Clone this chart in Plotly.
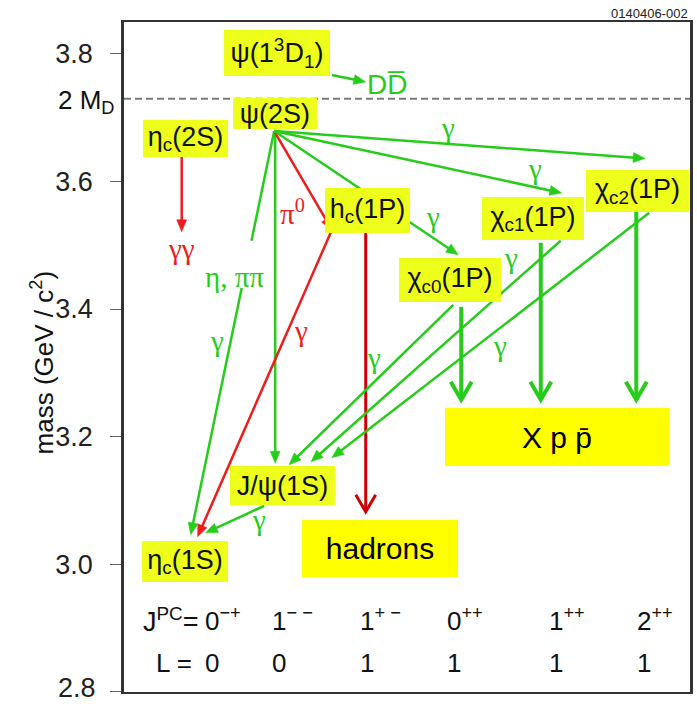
import math
import plotly.graph_objects as go

# ---------------- data ----------------
Y_RANGE = [2.7995, 3.85]
TICK_VALS = [2.8, 3.0, 3.2, 3.4, 3.6, 3.8]
TICK_TEXT = ["2.8", "3.0", "3.2", "3.4", "3.6", "3.8"]
TWO_MD = 3.7297          # 2 M_D threshold (GeV/c^2)
X_RANGE = [0, 569]        # schematic horizontal layout units

# charmonium states: label, horizontal layout position, level (mass, GeV/c^2)
state_names = ["ψ(1<sup>3</sup>D<sub>1</sub>)", "ψ(2S)", "η<sub>c</sub>(2S)", "h<sub>c</sub>(1P)",
               "χ<sub>c0</sub>(1P)", "χ<sub>c1</sub>(1P)", "χ<sub>c2</sub>(1P)",
               "J/ψ(1S)", "η<sub>c</sub>(1S)"]
state_x = [154, 152, 61.5, 244.5, 328, 411, 516.5, 159.5, 61]
state_mass = [3.766, 3.682, 3.639, 3.519, 3.411, 3.5085, 3.552, 3.093, 2.972]

# final states
final_names = ["hadrons", "X p p\u0304"]
final_x = [257, 435]
final_mass = [2.980, 3.154]

# transitions: start (x, mass) -> end (x, mass), colour kind, head kind
tr_x0 = [209, 58, 151, 152, 151, 209, 243, 151, 151, 151, 331, 439, 528, 141, 339, 419, 515]
tr_m0 = [3.767, 3.6386, 3.679, 3.679, 3.679, 3.524, 3.519, 3.679, 3.679, 3.679,
         3.4066, 3.507, 3.5508, 3.0915, 3.4034, 3.5038, 3.5524]
tr_x1 = [243, 58, 67, 152, 209, 74, 243, 524, 440, 336, 166, 188, 209, 82, 339, 419, 515]
tr_m1 = [3.756, 3.521, 3.046, 3.158, 3.524, 3.043, 3.082, 3.636, 3.582, 3.485,
         3.1558, 3.1605, 3.1668, 3.049, 3.2577, 3.2577, 3.2577]
tr_kind = ["g", "r", "g", "g", "r", "r", "R", "g", "g", "g", "g", "g", "g", "g", "G", "G", "G"]
tr_gap = {2: (0.272, 0.389)}   # line broken under the "η, ππ" label

# transition labels
lab_text = ["DD\u0305", "γγ", "π<sup>0</sup>", "γ", "η, ππ", "γ", "γ", "γ", "γ", "γ", "γ", "γ", "γ"]
lab_x = [264.5, 58, 169, 178, 111, 93, 326, 413, 311, 251, 389, 378, 136]
lab_m = [3.7514, 3.494, 3.552, 3.366, 3.4505, 3.350, 3.684, 3.619, 3.5445, 3.3235, 3.480, 3.342, 3.069]
lab_kind = ["gs", "r", "r", "r", "g", "g", "g", "g", "g", "g", "g", "g", "g"]

# quantum-number rows
jpc_labels = ["0<sup>−+</sup>", "1<sup>− −</sup>", "1<sup>+ −</sup>", "0<sup>++</sup>", "1<sup>++</sup>", "2<sup>++</sup>"]
l_values = ["0", "0", "1", "1", "1", "1"]
col_x = [79, 147, 235, 323, 425, 514]
JPC_ROW_M = 2.9129
L_ROW_M = 2.8455

# ---------------- styles / layout ----------------
W, H = 697, 704
ML, MR, MT, MB = 124, 4, 22, 12
PW, PH = W - ML - MR, H - MT - MB
PXM = PH / (Y_RANGE[1] - Y_RANGE[0])
PXX = PW / (X_RANGE[1] - X_RANGE[0])

GREEN = "#26cc1a"
RED = "#ee1c1c"
DRED = "#cc0000"
BOX = "#eeff1c"
BOX2 = "#ffff00"
SANS = "Liberation Sans"
SERIF = "Liberation Serif"
TICK_FONT = dict(family=SANS, size=27, color="#222")

state_box_w = [106, 84, 85, 85, 102, 102, 103, 105, 86]
state_box_h = [46, 31, 37, 45, 44, 43, 42, 39, 41]
final_box_w = [156, 224]
final_box_h = [57, 58]

kind_style = {
    "g": dict(color=GREEN, width=2.5, head="fill", L=12, Wd=5),
    "r": dict(color=RED, width=2.5, head="fill", L=12, Wd=5),
    "R": dict(color=DRED, width=3, head="open", L=17, Wd=10),
    "G": dict(color=GREEN, width=4, head="open", L=18, Wd=10.5),
}

fig = go.Figure()


def to_px(x, m):
    return x * PXX, m * PXM


def from_px(px, py):
    return px / PXX, py / PXM


def line_trace(xs, ys, color, width, fill=False):
    fig.add_trace(go.Scatter(
        x=xs, y=ys, mode="lines",
        line=dict(color=color, width=width),
        fill="toself" if fill else None,
        fillcolor=color if fill else None,
        hoverinfo="skip", showlegend=False))


for i in range(len(tr_x0)):
    st = kind_style[tr_kind[i]]
    sx, sy = to_px(tr_x0[i], tr_m0[i])
    ex, ey = to_px(tr_x1[i], tr_m1[i])
    dx, dy = ex - sx, ey - sy
    ln = math.hypot(dx, dy)
    ux, uy = dx / ln, dy / ln
    nx, ny = -uy, ux
    if st["head"] == "fill":
        bend = (ex - ux * st["L"] * 0.6, ey - uy * st["L"] * 0.6)
    else:
        bend = (ex - ux * 1.0, ey - uy * 1.0)
    segs = []
    if i in tr_gap:
        t0, t1 = tr_gap[i]
        segs.append(((sx, sy), (sx + dx * t0, sy + dy * t0)))
        segs.append(((sx + dx * t1, sy + dy * t1), bend))
    else:
        segs.append(((sx, sy), bend))
    xs, ys = [], []
    for a, b in segs:
        p0 = from_px(*a)
        p1 = from_px(*b)
        xs += [p0[0], p1[0], None]
        ys += [p0[1], p1[1], None]
    line_trace(xs, ys, st["color"], st["width"])
    bx, by = ex - ux * st["L"], ey - uy * st["L"]
    c1 = from_px(bx + nx * st["Wd"], by + ny * st["Wd"])
    c2 = from_px(bx - nx * st["Wd"], by - ny * st["Wd"])
    tp = from_px(ex, ey)
    if st["head"] == "fill":
        line_trace([c1[0], tp[0], c2[0], c1[0]], [c1[1], tp[1], c2[1], c1[1]], st["color"], 0.5, fill=True)
    else:
        line_trace([c1[0], tp[0], c2[0]], [c1[1], tp[1], c2[1]], st["color"], st["width"])

# 2 M_D threshold line
fig.add_shape(type="line", xref="paper", x0=0, x1=1, yref="y", y0=TWO_MD, y1=TWO_MD,
              line=dict(color="#7a7a7a", width=2, dash="7px,4px"), layer="below")

# state boxes
for name, x, m, w, h in zip(state_names, state_x, state_mass, state_box_w, state_box_h):
    fig.add_annotation(x=x, y=m, xref="x", yref="y", text=name, showarrow=False,
                       xanchor="center", yanchor="bottom", width=w, height=h,
                       bgcolor=BOX, borderpad=0, borderwidth=0,
                       font=dict(family=SANS, size=27, color="#111"))

for name, x, m, w, h in zip(final_names, final_x, final_mass, final_box_w, final_box_h):
    fig.add_annotation(x=x, y=m, xref="x", yref="y", text=name, showarrow=False,
                       xanchor="center", yanchor="bottom", width=w, height=h,
                       bgcolor=BOX2, borderpad=0, borderwidth=0,
                       font=dict(family=SANS, size=30, color="#000"))

# transition labels
for t, x, m, k in zip(lab_text, lab_x, lab_m, lab_kind):
    if k == "gs":
        fnt = dict(family=SANS, size=28, color=GREEN)
    elif k == "r":
        fnt = dict(family=SERIF, size=29, color=RED)
    else:
        fnt = dict(family=SERIF, size=29, color=GREEN)
    fig.add_annotation(x=x, y=m, xref="x", yref="y", text=t, showarrow=False,
                       xanchor="center", yanchor="middle", font=fnt)

# quantum number rows
fig.add_annotation(x=77, y=JPC_ROW_M, xref="x", yref="y", text="J<sup>PC</sup>=", showarrow=False,
                   xanchor="right", yanchor="middle", font=dict(family=SANS, size=27, color="#111"))
fig.add_annotation(x=70, y=L_ROW_M, xref="x", yref="y", text="L =", showarrow=False,
                   xanchor="right", yanchor="middle", font=dict(family=SANS, size=26, color="#111"))
for lab, lv, x in zip(jpc_labels, l_values, col_x):
    fig.add_annotation(x=x, y=JPC_ROW_M, xref="x", yref="y", text=lab, showarrow=False,
                       xanchor="left", yanchor="middle", font=dict(family=SANS, size=26, color="#111"))
    fig.add_annotation(x=x, y=L_ROW_M, xref="x", yref="y", text=lv, showarrow=False,
                       xanchor="left", yanchor="middle", font=dict(family=SANS, size=26, color="#111"))

# 2 M_D tick-style label
fig.add_annotation(x=-8 / PW, y=TWO_MD, xref="paper", yref="y", text="2 M<sub>D</sub>", showarrow=False,
                   xanchor="right", yanchor="middle", yshift=-3,
                   font=dict(family=SANS, size=26, color="#111"))

# lowest tick label: drawn as an annotation kept inside the page so it cannot overflow it
fig.add_annotation(x=-27 / PW, y=-MB / PH, xref="paper", yref="paper", text=TICK_TEXT[0],
                   showarrow=False, xanchor="right", yanchor="bottom", borderpad=0, font=TICK_FONT)
axis_tick_text = [""] + TICK_TEXT[1:]

# axis title
fig.add_annotation(x=-82 / PW, y=(PH - 340) / PH, xref="paper", yref="paper",
                   text="mass (GeV / c<sup>2</sup>)", textangle=-90, showarrow=False,
                   xanchor="center", yanchor="middle",
                   font=dict(family=SANS, size=26, color="#111"))

# figure id
fig.add_annotation(x=1, y=1 + 9 / PH, xref="paper", yref="paper", text="0140406-002",
                   showarrow=False, xanchor="right", yanchor="middle",
                   font=dict(family=SANS, size=13, color="#222"))

fig.update_layout(width=W, height=H, margin=dict(l=ML, r=MR, t=MT, b=MB),
                  plot_bgcolor="white", paper_bgcolor="white", showlegend=False)
fig.update_xaxes(range=X_RANGE, showgrid=False, zeroline=False, showticklabels=False, ticks="",
                 showline=True, linecolor="#333", linewidth=2, mirror=True)
fig.update_yaxes(range=Y_RANGE, tickvals=TICK_VALS, ticktext=axis_tick_text, ticks="outside",
                 ticklen=11, tickwidth=1, tickcolor="#666", showgrid=False, zeroline=False,
                 showline=True, linecolor="#333", linewidth=2.5, mirror=True,
                 ticklabelstandoff=12, tickfont=TICK_FONT)

fig.write_html("out.html", config={"displayModeBar": False},
               post_script="document.body.style.margin='0';document.body.style.overflow='hidden';")
